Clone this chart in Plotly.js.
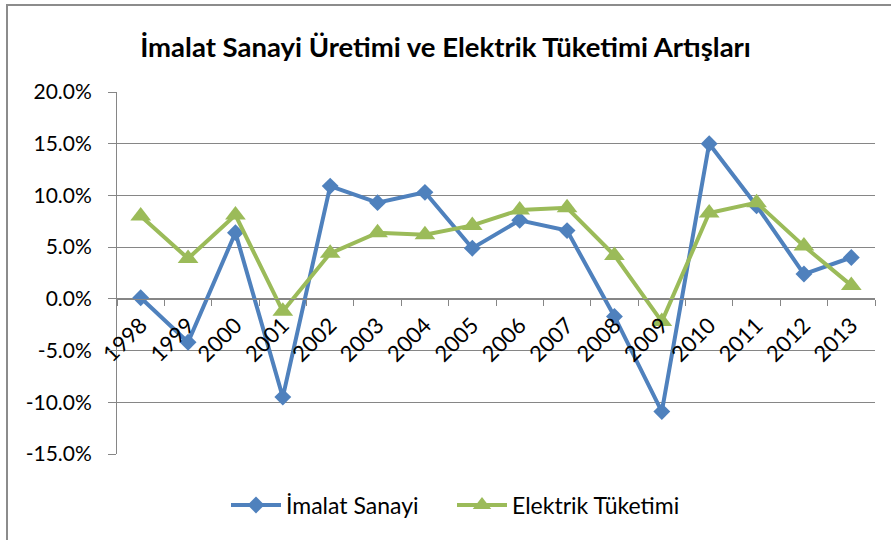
<!DOCTYPE html>
<html>
<head>
<meta charset="utf-8">
<script src="https://cdn.plot.ly/plotly-3.0.1.min.js"></script>
<style>html,body{margin:0;padding:0;background:#fff;}#chart{width:891px;height:540px;}</style>
</head>
<body>
<div id="chart"></div>
<script>
var years = ["1998","1999","2000","2001","2002","2003","2004","2005","2006","2007","2008","2009","2010","2011","2012","2013"];
var imalatSanayi = [0.1, -4.2, 6.4, -9.5, 10.9, 9.3, 10.3, 4.9, 7.6, 6.6, -1.7, -10.9, 15.0, 9.0, 2.4, 4.0];
var elektrikTuketimi = [8.0, 3.9, 8.1, -1.2, 4.4, 6.4, 6.2, 7.1, 8.6, 8.8, 4.2, -2.2, 8.3, 9.3, 5.1, 1.3];
var seriesNames = ["İmalat Sanayi", "Elektrik Tüketimi"];
var chartTitle = "İmalat Sanayi Üretimi ve Elektrik Tüketimi Artışları";
var yTicks = [-15, -10, -5, 0, 5, 10, 15, 20];

var font = "Lato, 'Open Sans', sans-serif";
var L = 117, R = 16, T = 92, B = 86, W = 891, H = 540;
var pw = W - L - R, ph = H - T - B;
function px2x(p){ return (p - L) / pw; }
function py2y(p){ return (H - B - p) / ph; }

var traces = [
  {x: years, y: imalatSanayi, name: seriesNames[0], type: "scatter", mode: "lines+markers", legend: "legend",
   line: {color: "#4F81BD", width: 4}, marker: {symbol: "diamond", size: 13, color: "#4F81BD"}},
  {x: years, y: elektrikTuketimi, name: seriesNames[1], type: "scatter", mode: "lines+markers", legend: "legend2",
   line: {color: "#9BBB59", width: 4}, marker: {symbol: "triangle-up", size: 18, color: "#9BBB59"}}
];

var legendFont = {family: font, size: 23, color: "#000"};

var layout = {
  width: W, height: H,
  margin: {l: L, r: R, t: T, b: B},
  paper_bgcolor: "#fff", plot_bgcolor: "#fff",
  font: {family: font, color: "#000", size: 20},
  title: {text: "<b>" + chartTitle + "</b>", x: 0.5, xanchor: "center", y: 1 - 47/540, yanchor: "middle",
          font: {family: font, size: 27.5, color: "#000"}},
  showlegend: true,
  legend: {orientation: "h", x: px2x(226), xanchor: "left", y: py2y(505), yanchor: "middle",
           font: legendFont, itemwidth: 50, bgcolor: "rgba(0,0,0,0)"},
  legend2: {orientation: "h", x: px2x(452), xanchor: "left", y: py2y(505), yanchor: "middle",
           font: legendFont, itemwidth: 50, bgcolor: "rgba(0,0,0,0)"},
  xaxis: {type: "category", categoryarray: years, range: [-0.5, 15.5], anchor: "free", position: 15/35,
          showgrid: false, showline: true, linecolor: "#868686", linewidth: 1,
          ticks: "outside", tickson: "boundaries", ticklen: 6, tickcolor: "#868686",
          tickangle: -45, ticklabelstandoff: 4, tickfont: {family: font, size: 22, color: "#000"},
          zeroline: false, fixedrange: true},
  yaxis: {range: [-15, 20], tickvals: yTicks, ticktext: yTicks.map(function(v){return v.toFixed(1) + "%";}),
          showgrid: true, gridcolor: "#868686", gridwidth: 1,
          showline: true, linecolor: "#868686", linewidth: 1,
          ticks: "outside", ticklen: 8, tickcolor: "#868686", ticklabelstandoff: 12,
          tickfont: {family: font, size: 21, color: "#000"},
          zeroline: false, fixedrange: true},
  shapes: [
    {type: "line", xref: "paper", yref: "paper", x0: px2x(6), x1: px2x(891), y0: py2y(5), y1: py2y(5),
     line: {color: "#8C8C8C", width: 2}},
    {type: "line", xref: "paper", yref: "paper", x0: px2x(7), x1: px2x(7), y0: py2y(5), y1: py2y(540),
     line: {color: "#8C8C8C", width: 2}}
  ]
};

Plotly.newPlot("chart", traces, layout, {displayModeBar: false, staticPlot: true});
</script>
</body>
</html>
